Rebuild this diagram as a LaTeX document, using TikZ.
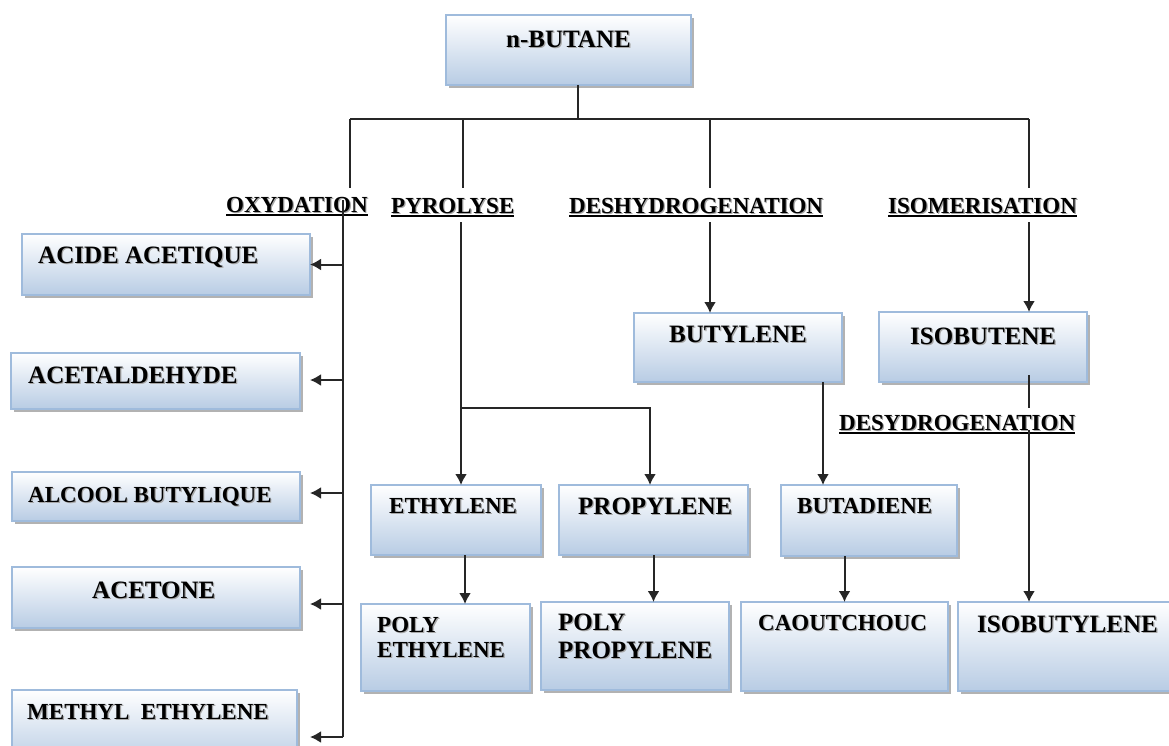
\documentclass[tikz,border=0pt]{standalone}
\usepackage{fontspec}
\setmainfont{Liberation Serif}
\usetikzlibrary{shadows,arrows.meta,calc}
\definecolor{boxblue}{HTML}{B8CCE4}
\definecolor{boxedge}{HTML}{9FBBDC}
\newcommand\shtx[1]{\leavevmode\rlap{\kern1.2pt\raisebox{-1.2pt}{\color{black!35}#1}}#1}
\newcommand\ulab[1]{\setbox0=\hbox{\shtx{#1}}\rlap{\rule[-3.8pt]{\wd0}{1.8pt}}\box0}
\newcommand\mkbox[5]{\node[prodbox, minimum width={(#4-#2)*1pt}, minimum height={(#5-#3)*1pt}] (#1) at ({(#2+#4)/2},{(#3+#5)/2}) {};}
\tikzset{
  prodbox/.style={rectangle, draw=boxedge, line width=1.4pt, top color=white, bottom color=boxblue,
    drop shadow={shadow xshift=2.5pt, shadow yshift=-2.5pt, opacity=0.3, fill=black},
    inner sep=0pt, outer sep=0pt},
  big/.style={font=\fontsize{25}{27}\selectfont\bfseries, anchor=base west, inner sep=0pt},
  small/.style={font=\fontsize{23}{25}\selectfont\bfseries, anchor=base west, inner sep=0pt},
  lab/.style={font=\fontsize{23}{25}\selectfont\bfseries, anchor=base west, inner sep=0pt},
  conn/.style={line width=2pt, draw=black!85},
  arr/.style={conn, -{Latex[length=11pt,width=12pt]}},
}
\begin{document}
\begin{tikzpicture}[x=1pt,y=-1pt]
\clip (0,0) rectangle (1169,745);
\fill[white] (0,0) rectangle (1169,745);
% boxes
\mkbox{nbutane}{446}{15}{691}{85}
\mkbox{acide}{22}{234}{310}{295}
\mkbox{acetal}{11}{353}{300}{409}
\mkbox{alcool}{12}{472}{300}{521}
\mkbox{acetone}{12}{567}{300}{628}
\mkbox{methyl}{12}{690}{297}{765}
\mkbox{butylene}{634}{313}{842}{382}
\mkbox{isobutene}{879}{312}{1087}{382}
\mkbox{ethylene}{371}{485}{541}{555}
\mkbox{propylene}{559}{485}{748}{555}
\mkbox{butadiene}{781}{485}{957}{556}
\mkbox{polyeth}{361}{604}{530}{691}
\mkbox{polyprop}{541}{602}{729}{690}
\mkbox{caout}{741}{602}{948}{691}
\mkbox{isobutyl}{958}{602}{1185}{691}
% texts
\node[big] (t-nbutane) at (506,47) {\shtx{n-BUTANE}};
\node[big] (t-acide) at (38,263) {\shtx{ACIDE ACETIQUE}};
\node[big] (t-acetal) at (28,383) {\shtx{ACETALDEHYDE}};
\node[small] (t-alcool) at (28,502) {\shtx{ALCOOL BUTYLIQUE}};
\node[big] (t-acetone) at (92,598) {\shtx{ACETONE}};
\node[small] (t-methyl) at (27,719) {\shtx{METHYL\ \ ETHYLENE}};
\node[big] (t-butylene) at (669,342) {\shtx{BUTYLENE}};
\node[big] (t-isobutene) at (910,344) {\shtx{ISOBUTENE}};
\node[small] (t-ethylene) at (389,513) {\shtx{ETHYLENE}};
\node[big] (t-propylene) at (578,514) {\shtx{PROPYLENE}};
\node[small] (t-butadiene) at (797,513) {\shtx{BUTADIENE}};
\node[small] (t-polyeth1) at (377,632) {\shtx{POLY}};
\node[small] (t-polyeth2) at (377,657) {\shtx{ETHYLENE}};
\node[big] (t-polyprop1) at (558,630) {\shtx{POLY}};
\node[big] (t-polyprop2) at (558,658) {\shtx{PROPYLENE}};
\node[small] (t-caout) at (758,630) {\shtx{CAOUTCHOUC}};
\node[big] (t-isobutyl) at (977,632) {\shtx{ISOBUTYLENE}};
% process labels
\node[lab] (lox) at (226,212) {\ulab{OXYDATION}};
\node[lab] (lpy) at (391,213) {\ulab{PYROLYSE}};
\node[lab] (ldh) at (569,213) {\ulab{DESHYDROGENATION}};
\node[lab] (lis) at (888,213) {\ulab{ISOMERISATION}};
\node[lab] (lds) at (839,430) {\ulab{DESYDROGENATION}};
% connectors
\coordinate (jtop) at (578,119);
\coordinate (jl) at (350,119);
\coordinate (jr) at (1029,119);
\coordinate (d1) at (350,188);
\coordinate (d2a) at (463,119);
\coordinate (d2) at (463,188);
\coordinate (d3a) at (710,119);
\coordinate (d3) at (710,188);
\coordinate (d4) at (1029,188);
\draw[conn] (jtop |- nbutane.south) -- (jtop);
\draw[conn] (jl) -- (jr);
\draw[conn] (jl) -- (d1);
\draw[conn] (d2a) -- (d2);
\draw[conn] (d3a) -- (d3);
\draw[conn] (jr) -- (d4);
% oxydation
\coordinate (ox1) at (343,200);
\coordinate (ox2) at (343,737);
\coordinate (a2) at (343,380);
\coordinate (a3) at (343,493);
\coordinate (a4) at (343,604);
\draw[conn] (ox1) -- (ox2);
\draw[arr] (ox1 |- acide.east) -- (acide.east);
\draw[arr] (a2) -- ([xshift=10pt]a2 -| acetal.east);
\draw[arr] (a3) -- ([xshift=10pt]a3 -| alcool.east);
\draw[arr] (a4) -- ([xshift=10pt]a4 -| acetone.east);
\draw[arr] (ox2) -- ([xshift=13pt]ox2 -| methyl.east);
% pyrolyse
\coordinate (py) at (461,222);
\coordinate (pyb) at (461,408);
\coordinate (pyc) at (650,408);
\draw[arr] (py) -- (py |- ethylene.north);
\draw[arr] (pyb) -- (pyc) -- (pyc |- propylene.north);
\draw[arr] ([xshift=9pt]ethylene.south) -- ([xshift=9pt]ethylene.south |- polyeth.north);
\draw[arr] (propylene.south) -- (propylene.south |- polyprop.north);
% deshydrogenation
\coordinate (dh) at (710,222);
\draw[arr] (dh) -- (dh |- butylene.north);
\draw[arr] ([xshift=85pt]butylene.south) -- ([xshift=85pt]butylene.south |- butadiene.north);
\draw[arr] (caout.north |- butadiene.south) -- (caout.north);
% isomerisation
\coordinate (is) at (1029,222);
\coordinate (ib1) at (1029,375);
\coordinate (ib2) at (1029,408);
\coordinate (ds) at (1029,430);
\draw[arr] (is) -- (is |- isobutene.north);
\draw[conn] (ib1) -- (ib2);
\draw[arr] (ds) -- (ds |- isobutyl.north);
\end{tikzpicture}
\end{document}
